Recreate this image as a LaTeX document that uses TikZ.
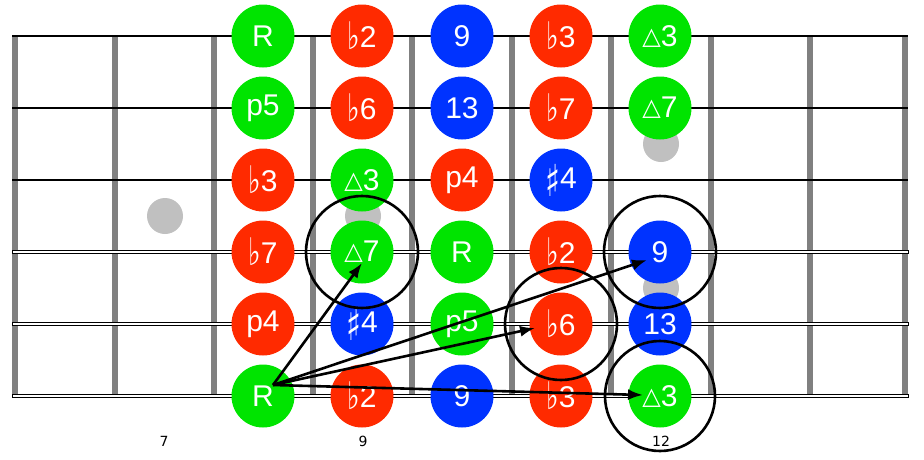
\documentclass[tikz,border=0pt]{standalone}
\usepackage{fontspec}
\setmainfont{Liberation Sans}
\newfontfamily\symfont{DejaVu Sans}
\newfontfamily\fretfont{DejaVu Sans}
\usetikzlibrary{arrows.meta}
\definecolor{notegreen}{RGB}{0,228,0}
\definecolor{notered}{RGB}{255,42,0}
\definecolor{noteblue}{RGB}{0,51,255}
\definecolor{fretgray}{RGB}{128,128,128}
\definecolor{inlaygray}{RGB}{192,192,192}
\newcommand{\mflat}{{\symfont\fontsize{38}{38}\selectfont\raisebox{-2pt}{\scalebox{0.7}[1]{♭}}}}
\newcommand{\msharp}{{\symfont\fontsize{44}{44}\selectfont\raisebox{-8pt}{\scalebox{0.7}[1]{♯}}}}
\newcommand{\mtri}{{\symfont\fontsize{24}{24}\selectfont\raisebox{2pt}{△}}}

\begin{document}
\begin{tikzpicture}[x=1pt,y=-1pt,
        fret/.style={line width=6pt,draw=fretgray},
        plain/.style={line width=1.2pt},
        wound/.style={draw=black,fill=white,line width=0.9pt},
        inlay/.style={circle,fill=inlaygray,minimum size=36pt,inner sep=0pt},
        note/.style={circle,minimum size=63pt,inner sep=0pt,text=white,font=\fontsize{30}{30}\selectfont},
        gn/.style={note,fill=notegreen},
        rd/.style={note,fill=notered},
        bl/.style={note,fill=noteblue},
        ring/.style={draw=black,line width=2.6pt},
        jump/.style={line width=2.6pt,-{Latex[length=15pt,width=11pt]}},
        fretno/.style={font=\fretfont\fontsize{14}{14}\selectfont}]
        \useasboundingbox (0,0) rectangle (924,459);

        \draw[fret] (14.5,36) -- (14.5,396);
        \draw[fret] (115,36) -- (115,396);
        \draw[fret] (214,36) -- (214,396);
        \draw[fret] (313,36) -- (313,396);
        \draw[fret] (412,36) -- (412,396);
        \draw[fret] (512,36) -- (512,396);
        \draw[fret] (611,36) -- (611,396);
        \draw[fret] (711,36) -- (711,396);
        \draw[fret] (810,36) -- (810,396);
        \draw[fret] (905,36) -- (905,396);

        \draw[plain] (12,36) -- (908,36);
        \draw[plain] (12,108) -- (908,108);
        \draw[plain] (12,180) -- (908,180);
        \draw[wound] (12,250.5) rectangle (908,253.5);
        \draw[wound] (12,322.5) rectangle (908,325.5);
        \draw[wound] (12,394.5) rectangle (908,397.5);

        \node[inlay] (dot7) at (165,216) {};
        \node[inlay] (dot9) at (363,216) {};
        \node[inlay] (dot12a) at (661,144) {};
        \node[inlay] (dot12b) at (661,288) {};

        \node[fretno] (num7) at (164,441) {7};
        \node[fretno] (num9) at (363,441) {9};
        \node[fretno] (num12) at (661,441) {12};

        \node[gn] (s1_8) at (263,36) {R};
        \node[rd] (s1_9) at (362,36) {\mflat2};
        \node[bl] (s1_10) at (462,36) {9};
        \node[rd] (s1_11) at (561,36) {\mflat3};
        \node[gn] (s1_12) at (660,36) {\mtri3};
        \node[gn] (s2_8) at (263,108) {p5};
        \node[rd] (s2_9) at (362,108) {\mflat6};
        \node[bl] (s2_10) at (462,108) {13};
        \node[rd] (s2_11) at (561,108) {\mflat7};
        \node[gn] (s2_12) at (660,108) {\mtri7};
        \node[rd] (s3_8) at (263,180) {\mflat3};
        \node[gn] (s3_9) at (362,180) {\mtri3};
        \node[rd] (s3_10) at (462,180) {p4};
        \node[bl] (s3_11) at (561,180) {\msharp4};
        \node[rd] (s4_8) at (263,252) {\mflat7};
        \node[gn] (s4_9) at (362,252) {\mtri7};
        \node[gn] (s4_10) at (462,252) {R};
        \node[rd] (s4_11) at (561,252) {\mflat2};
        \node[bl] (s4_12) at (660,252) {9};
        \node[rd] (s5_8) at (263,324) {p4};
        \node[bl] (s5_9) at (362,324) {\msharp4};
        \node[gn] (s5_10) at (462,324) {p5};
        \node[rd] (s5_11) at (561,324) {\mflat6};
        \node[bl] (s5_12) at (660,324) {13};
        \node[gn] (s6_8) at (263,396) {R};
        \node[rd] (s6_9) at (362,396) {\mflat2};
        \node[bl] (s6_10) at (462,396) {9};
        \node[rd] (s6_11) at (561,396) {\mflat3};
        \node[gn] (s6_12) at (660,396) {\mtri3};

        \draw[ring] (s4_9.center) circle (56pt);
        \draw[ring] (s5_11.center) circle (56pt);
        \draw[ring] (s4_12.center) circle (56pt);
        \draw[ring] (s6_12.center) circle (55pt);

        \coordinate (root) at (273,385);
        \coordinate (to7) at (362,263);
        \coordinate (to9) at (647,260);
        \coordinate (to6) at (535,328);
        \coordinate (to3) at (643,395);
        \draw[jump] (root) -- (to7);
        \draw[jump] (root) -- (to9);
        \draw[jump] (root) -- (to6);
        \draw[jump] (root) -- (to3);
    \end{tikzpicture}
\end{document}
